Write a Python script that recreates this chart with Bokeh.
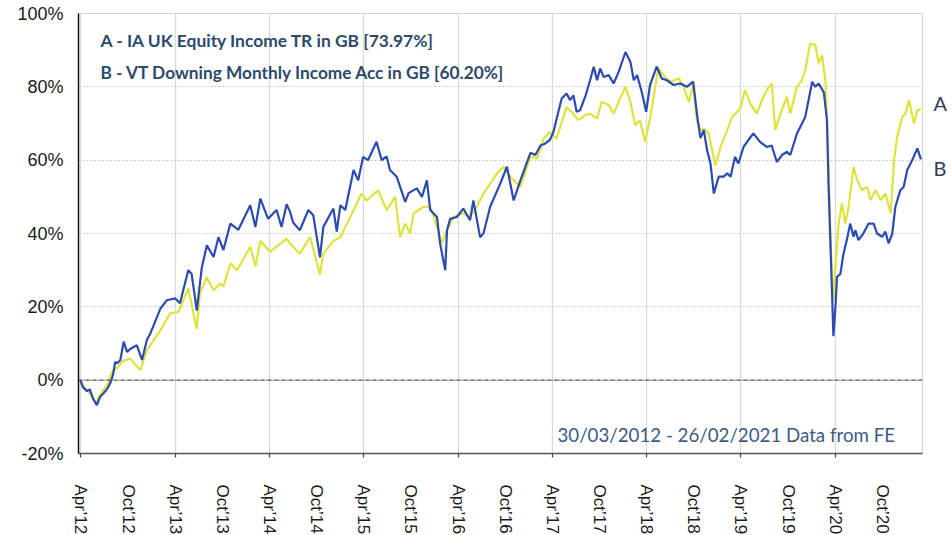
import pandas as pd
from bokeh.plotting import figure
from bokeh.models import (ColumnDataSource, Range1d, FixedTicker, DatetimeTickFormatter,
                          PrintfTickFormatter, Span, Label, LinearAxis)
from bokeh.embed import file_html
from bokeh.resources import INLINE

series_a_name = "A - IA UK Equity Income TR in GB [73.97%]"
series_b_name = "B - VT Downing Monthly Income Acc in GB [60.20%]"
period_note = "30/03/2012 - 26/02/2021 Data from FE"

dates_a = [
    "2012-03-30", "2012-04-10", "2012-04-29", "2012-05-18", "2012-05-30", "2012-06-15",
    "2012-07-04", "2012-07-15", "2012-07-23", "2012-08-04", "2012-08-25", "2012-09-07",
    "2012-10-09", "2012-11-17", "2012-12-13", "2013-02-03", "2013-03-12", "2013-04-13",
    "2013-05-22", "2013-06-24", "2013-07-06", "2013-08-02", "2013-08-28", "2013-09-23",
    "2013-10-05", "2013-11-01", "2013-11-27", "2014-01-17", "2014-02-06", "2014-02-25",
    "2014-04-03", "2014-04-29", "2014-06-07", "2014-06-20", "2014-07-28", "2014-09-06",
    "2014-10-14", "2014-10-27", "2014-12-05", "2015-01-01", "2015-02-02", "2015-03-24",
    "2015-04-12", "2015-05-27", "2015-06-29", "2015-08-01", "2015-08-20", "2015-09-09",
    "2015-09-28", "2015-10-11", "2015-11-19", "2015-12-15", "2016-01-10", "2016-01-29",
    "2016-02-18", "2016-03-14", "2016-04-21", "2016-05-17", "2016-06-12", "2016-07-08",
    "2016-08-03", "2016-08-29", "2016-09-24", "2016-10-20", "2016-11-28", "2017-01-06",
    "2017-02-01", "2017-02-26", "2017-03-22", "2017-04-17", "2017-05-26", "2017-06-21",
    "2017-07-10", "2017-08-06", "2017-08-25", "2017-09-21", "2017-10-09", "2017-11-05",
    "2017-11-24", "2017-12-19", "2018-01-09", "2018-01-28", "2018-02-16", "2018-03-06",
    "2018-03-26", "2018-04-14", "2018-05-16", "2018-06-05", "2018-07-01", "2018-08-03",
    "2018-08-22", "2018-09-11", "2018-09-28", "2018-10-13", "2018-10-26", "2018-11-08",
    "2018-11-27", "2018-12-23", "2019-01-12", "2019-02-07", "2019-02-26", "2019-03-29",
    "2019-04-17", "2019-05-06", "2019-06-02", "2019-06-21", "2019-07-10", "2019-07-29",
    "2019-08-12", "2019-09-01", "2019-09-26", "2019-10-09", "2019-11-04", "2019-11-23",
    "2019-12-06", "2019-12-25", "2020-01-14", "2020-01-27", "2020-02-09", "2020-02-22",
    "2020-03-05", "2020-03-12", "2020-03-18", "2020-03-24", "2020-04-01", "2020-04-13",
    "2020-04-26", "2020-05-09", "2020-05-22", "2020-06-10", "2020-06-24", "2020-07-13",
    "2020-08-02", "2020-08-15", "2020-09-03", "2020-09-23", "2020-10-11", "2020-11-01",
    "2020-11-14", "2020-11-26", "2020-12-16", "2020-12-28", "2021-01-11", "2021-01-30",
    "2021-02-12", "2021-02-26",
]
values_a = [
    0, -1.5, -3, -5, -6, -4,
    -2, -1, 1, 2.7, 3.6, 5,
    5.9, 2.7, 8.2, 13.6, 18.2, 18.6,
    25, 14, 23.6, 28, 24.5, 26.4,
    25.5, 31.8, 30, 36.4, 31, 38,
    35, 36.4, 38.6, 37.3, 34.5, 39,
    28.8, 34.5, 38, 39, 43.6, 50.9,
    49, 51.8, 46.4, 50, 39, 42.7,
    40, 45.5, 47.3, 47.3, 41.8, 37.3,
    40.9, 44.5, 45.5, 44.5, 47.3, 50.9,
    53.6, 56.4, 58.2, 55.5, 52.7, 61,
    60.5, 65.9, 67.7, 65.9, 74.5, 72.7,
    70.9, 72.3, 72.7, 71.4, 75.9, 75,
    72.7, 76.8, 80, 75.9, 69.5, 70.9,
    65, 71.4, 85, 83.2, 81.4, 82.3,
    80, 75.9, 80.5, 70.5, 68.2, 68.6,
    67.3, 58.6, 63.6, 68.2, 71.8, 74.1,
    79.1, 75.5, 72.7, 76.4, 79.1, 80.9,
    68.2, 72.7, 77.3, 72.7, 80, 81.8,
    84.5, 91.8, 91.4, 86.4, 88.6, 81.8,
    60, 41.8, 28.2, 21.8, 30.9, 42.7,
    48.2, 42.7, 47.3, 58.2, 54.5, 51.8,
    52.7, 49.1, 51.8, 49.1, 50.9, 45.5,
    60, 66.4, 71.8, 72.7, 76.4, 70,
    73.6, 73.97,
]

dates_b = [
    "2012-03-30", "2012-04-10", "2012-04-25", "2012-05-06", "2012-05-18", "2012-06-02",
    "2012-06-15", "2012-06-29", "2012-07-11", "2012-07-23", "2012-08-04", "2012-08-12",
    "2012-08-20", "2012-09-01", "2012-09-14", "2012-09-27", "2012-10-09", "2012-11-04",
    "2012-11-24", "2012-12-13", "2012-12-26", "2013-02-03", "2013-02-28", "2013-04-01",
    "2013-04-20", "2013-05-22", "2013-06-04", "2013-06-24", "2013-07-13", "2013-08-02",
    "2013-08-28", "2013-09-16", "2013-10-05", "2013-11-01", "2013-12-02", "2014-01-17",
    "2014-02-06", "2014-02-25", "2014-03-27", "2014-04-29", "2014-05-18", "2014-06-07",
    "2014-06-20", "2014-07-02", "2014-07-28", "2014-08-30", "2014-09-18", "2014-10-14",
    "2014-10-27", "2014-12-05", "2014-12-18", "2015-01-01", "2015-01-20", "2015-02-21",
    "2015-03-11", "2015-03-30", "2015-04-18", "2015-05-21", "2015-06-10", "2015-06-29",
    "2015-07-12", "2015-08-07", "2015-09-09", "2015-09-22", "2015-10-24", "2015-11-13",
    "2015-12-02", "2015-12-15", "2016-01-10", "2016-01-22", "2016-02-11", "2016-02-18",
    "2016-03-01", "2016-03-27", "2016-04-21", "2016-05-17", "2016-05-30", "2016-06-25",
    "2016-07-08", "2016-08-03", "2016-09-11", "2016-10-07", "2016-11-02", "2016-11-28",
    "2017-01-06", "2017-01-25", "2017-02-14", "2017-03-03", "2017-03-22", "2017-04-05",
    "2017-04-24", "2017-05-07", "2017-05-26", "2017-06-08", "2017-06-21", "2017-07-04",
    "2017-07-17", "2017-08-06", "2017-08-25", "2017-09-08", "2017-09-21", "2017-10-03",
    "2017-10-16", "2017-11-05", "2017-11-24", "2017-12-13", "2018-01-09", "2018-01-28",
    "2018-02-10", "2018-02-23", "2018-03-13", "2018-03-30", "2018-04-14", "2018-05-10",
    "2018-05-29", "2018-06-18", "2018-07-14", "2018-08-09", "2018-09-04", "2018-09-28",
    "2018-10-13", "2018-10-26", "2018-11-08", "2018-11-21", "2018-12-04", "2018-12-17",
    "2019-01-05", "2019-01-24", "2019-02-07", "2019-02-20", "2019-03-09", "2019-03-22",
    "2019-04-11", "2019-04-30", "2019-05-19", "2019-06-14", "2019-07-10", "2019-07-29",
    "2019-08-18", "2019-09-07", "2019-09-26", "2019-10-09", "2019-11-04", "2019-12-06",
    "2020-01-02", "2020-01-14", "2020-01-27", "2020-02-16", "2020-02-28", "2020-03-05",
    "2020-03-12", "2020-03-18", "2020-03-24", "2020-04-01", "2020-04-07", "2020-04-20",
    "2020-05-02", "2020-05-15", "2020-05-28", "2020-06-10", "2020-06-17", "2020-06-29",
    "2020-07-18", "2020-08-07", "2020-08-27", "2020-09-09", "2020-09-29", "2020-10-11",
    "2020-10-24", "2020-11-07", "2020-11-19", "2020-12-08", "2020-12-21", "2021-01-04",
    "2021-01-23", "2021-02-12", "2021-02-26",
]
values_b = [
    0, -2, -3, -2.5, -5, -6.8,
    -4.5, -3.5, -2.5, -1, 1.5, 5,
    4.6, 5.5, 10.5, 7.7, 8.5, 9.5,
    5.5, 11, 12.7, 19.5, 21.8, 22.3,
    21, 30, 29, 19, 30.5, 36.8,
    33.6, 39, 35.5, 42.7, 41, 47.7,
    41.8, 49.5, 44, 46.4, 41.8, 48,
    45.9, 43, 40.9, 46.4, 45, 33.5,
    41.8, 46.8, 40.5, 47.7, 46.4, 57.3,
    54.5, 60.9, 60, 65, 60, 61,
    57.3, 55.5, 48.6, 51, 52.3, 50,
    54.5, 46.4, 44.5, 37.3, 30, 40.9,
    44, 44.5, 46.8, 43.6, 49, 39,
    40, 47.3, 53.6, 58.2, 49, 54.5,
    62, 61.4, 64, 64.5, 65.5, 67.7,
    73.2, 76.8, 78.2, 76.4, 77.7, 73.2,
    73.6, 77.3, 81.8, 85.5, 81.8, 85,
    82.7, 83.2, 80.9, 84, 89.5, 86.8,
    81.8, 83.2, 78.6, 73.2, 80.5, 85.5,
    82.3, 81.8, 80.5, 80.9, 80, 81.4,
    72.5, 66, 68.2, 62.7, 59.1, 50.9,
    55.5, 55.5, 56.4, 55.5, 60.9, 59.1,
    63.6, 65.5, 67.3, 65, 63.6, 64,
    59.5, 61.4, 62.3, 61.4, 67.3, 71.8,
    81.4, 80, 80.9, 78.5, 71, 53.6,
    38.2, 25.5, 12, 20, 28.2, 29,
    34.5, 38.2, 42.7, 39.1, 40.9, 38.2,
    40, 42.7, 42.7, 40, 39.1, 40.5,
    37.3, 40, 47.3, 51.8, 52.7, 57.3,
    60, 63.2, 60.2,
]

end_labels = ["A", "B"]
y_ticks = [-20, 0, 20, 40, 60, 80, 100]
x_label_dates = [
    "2012-04-01", "2012-10-01", "2013-04-01", "2013-10-01", "2014-04-01", "2014-10-01",
    "2015-04-01", "2015-10-01", "2016-04-01", "2016-10-01", "2017-04-01", "2017-10-01",
    "2018-04-01", "2018-10-01", "2019-04-01", "2019-10-01", "2020-04-01", "2020-10-01",
]
x_year_dates = [
    "2012-04-01", "2013-04-01", "2014-04-01", "2015-04-01", "2016-04-01",
    "2017-04-01", "2018-04-01", "2019-04-01", "2020-04-01",
]
x_start, x_end = "2012-03-23", "2021-03-04"


def to_ms(ds):
    return [int(t.value // 10**6) for t in pd.to_datetime(ds)]


src_a = ColumnDataSource(dict(x=pd.to_datetime(dates_a), y=values_a))
src_b = ColumnDataSource(dict(x=pd.to_datetime(dates_b), y=values_b))

p = figure(
    x_axis_type="datetime",
    frame_width=844, frame_height=440,
    min_border_left=78, min_border_right=30, min_border_top=13, min_border_bottom=82,
    x_range=Range1d(pd.Timestamp(x_start), pd.Timestamp(x_end)),
    y_range=Range1d(-20, 100),
    output_backend="svg", toolbar_location=None,
    background_fill_color="white", border_fill_color="white",
)
p.outline_line_color = "#d4d4d4"
p.outline_line_width = 1

# grids
p.xgrid.ticker = FixedTicker(ticks=to_ms(x_year_dates))
p.xgrid.grid_line_color = "#d9d9d9"
p.xgrid.grid_line_width = 1.2
p.ygrid.ticker = FixedTicker(ticks=y_ticks)
p.ygrid.grid_line_color = "#c8c8c8"
p.ygrid.grid_line_dash = "2 2"
p.ygrid.grid_line_width = 1

# x axis
xa = p.xaxis[0]
xa.ticker = FixedTicker(ticks=to_ms(x_label_dates), minor_ticks=to_ms(x_year_dates))
fmt = "%b\u2019%y"
xa.formatter = DatetimeTickFormatter(
    microseconds=fmt, milliseconds=fmt, seconds=fmt, minsec=fmt, minutes=fmt,
    hourmin=fmt, hours=fmt, days=fmt, months=fmt, years=fmt)
xa.major_label_orientation = "vertical"
xa.major_tick_out = 0
xa.major_tick_in = 0
xa.minor_tick_out = 4
xa.minor_tick_in = 0
xa.minor_tick_line_color = "#444444"
xa.minor_tick_line_width = 1.2
xa.axis_line_color = "#555555"
xa.axis_line_width = 1.5
xa.major_label_standoff = 27
xa.major_label_text_font = "Liberation Sans"
xa.major_label_text_font_size = "17px"
xa.major_label_text_color = "#1a1a1a"

# y axis
ya = p.yaxis[0]
ya.ticker = FixedTicker(ticks=y_ticks)
ya.formatter = PrintfTickFormatter(format="%d%%")
ya.major_tick_out = 0
ya.major_tick_in = 0
ya.minor_tick_out = 0
ya.minor_tick_in = 0
ya.axis_line_color = "#111111"
ya.axis_line_width = 1.5
ya.major_label_standoff = 15
ya.major_label_text_font = "Liberation Sans"
ya.major_label_text_font_size = "18px"
ya.major_label_text_color = "#1a1a1a"

# zero line
p.add_layout(Span(location=0, dimension="width", line_color="#555555",
                  line_width=1.3, line_dash="4 1 1 1"))

# series
p.line("x", "y", source=src_a, line_color="#dfe33c", line_width=2.2)
p.line("x", "y", source=src_b, line_color="#2b4bb3", line_width=2.2)

# legend texts
p.add_layout(Label(x=22, y=413, x_units="screen", y_units="screen", text=series_a_name,
                   text_font="Lato", text_font_style="bold", text_font_size="17.4px",
                   text_color="#2d4a6b", text_baseline="middle"))
p.add_layout(Label(x=22, y=381, x_units="screen", y_units="screen", text=series_b_name,
                   text_font="Lato", text_font_style="bold", text_font_size="17.3px",
                   text_color="#2d4a6b", text_baseline="middle"))
p.add_layout(Label(x=479, y=19, x_units="screen", y_units="screen", text=period_note,
                   text_font="Lato", text_font_size="18.7px",
                   text_color="#3b5b82", text_baseline="middle"))

# end labels "A" / "B" to the right of the frame, as a tick-label-only right axis
pos_a = round(values_a[-1] + 1.7, 1)
pos_b = round(values_b[-1] - 2.2, 1)
ra = LinearAxis(ticker=FixedTicker(ticks=[pos_a, pos_b]),
                major_label_overrides={pos_a: end_labels[0], pos_b: end_labels[1]})
ra.axis_line_color = None
ra.major_tick_line_color = None
ra.minor_tick_line_color = None
ra.major_tick_out = 0
ra.major_tick_in = 0
ra.major_label_standoff = 11
ra.major_label_text_font = "Lato"
ra.major_label_text_font_size = "20px"
ra.major_label_text_color = "#2f3e52"
p.add_layout(ra, "right")

open("out.html", "w").write(file_html(p, INLINE))
